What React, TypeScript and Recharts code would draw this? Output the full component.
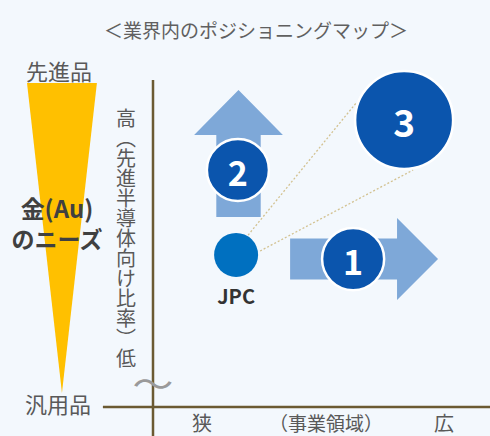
import { ScatterChart, Scatter, XAxis, YAxis, ZAxis, ReferenceArea, ReferenceLine } from 'recharts'

// map units: origin of the two axes is (0, 0)
const X_DOMAIN = [-5.1, 11.233]
const Y_DOMAIN = [-0.967, 13.567]

const markerNames = ['JPC', '1', '2', '3']
const markerX = [2.77, 6.67, 2.83, 8.37]
const markerY = [5.07, 4.93, 7.9, 9.57]
const markerZ = [1, 2, 2, 5]

const arrowNames = ['up', 'right']
const arrowX = [[1.37, 4.33], [4.57, 9.5]]
const arrowY = [[6.33, 10.57], [3.57, 6.3]]

const needX = [-4.2, -1.87]
const needY = [0.47, 10.8]

const linkFrom = [[3.17, 5.73], [3.57, 5.2]]
const linkTo = [[6.8, 10.17], [8.67, 7.9]]

const xAxisSpan = [-1.67, 11.3]
const yAxisSpan = [-1.1, 10.9]

const xLabels = ['狭', '（事業領域）', '広']
const yLabel = '高（先進半導体向け比率）低'

const FONT = '"Noto Sans CJK JP", "Noto Sans", sans-serif'
const AXIS = '#6b5a32'
const ARROW = '#7ea8d8'
const NAVY = '#0b55ad'
const GRAY = '#595959'

const markers = markerNames.map((name, i) => ({ name, x: markerX[i], y: markerY[i], z: markerZ[i] }))

function Marker(props: any) {
  const { cx, cy, payload } = props
  const r = props.size ? Math.sqrt(props.size / Math.PI) : props.width / 2
  if (payload.name === 'JPC') {
    return (
      <g>
        <circle cx={cx} cy={cy} r={r} fill="#0070c0" />
        <text x={cx} y={cy + r + 19} textAnchor="middle" dominantBaseline="central" fontFamily={FONT} fontWeight={700} fontSize={20} fill="#333">
          JPC
        </text>
      </g>
    )
  }
  return (
    <g>
      <circle cx={cx} cy={cy} r={r} fill={NAVY} stroke="#fff" strokeWidth={2.5} />
      <text x={cx} y={cy + 1} textAnchor="middle" dominantBaseline="central" fontFamily={FONT} fontWeight={700} fontSize={r > 40 ? 37 : 34} fill="#fff">
        {payload.name}
      </text>
    </g>
  )
}

function arrowShape(dir: string) {
  return (p: any) => {
    const { x, y, width: w, height: h } = p
    if (dir === 'up') {
      const sw = w * 0.25
      const hh = h * 0.355
      const m = x + w / 2
      const pts = [
        [m, y], [x + w, y + hh], [m + sw, y + hh], [m + sw, y + h],
        [m - sw, y + h], [m - sw, y + hh], [x, y + hh],
      ]
      return <polygon points={pts.map((q) => q.join(',')).join(' ')} fill={ARROW} />
    }
    const sh = h * 0.25
    const hl = w * 0.277
    const m = y + h / 2
    const pts = [
      [x + w, m], [x + w - hl, y + h], [x + w - hl, m + sh], [x, m + sh],
      [x, m - sh], [x + w - hl, m - sh], [x + w - hl, y],
    ]
    return <polygon points={pts.map((q) => q.join(',')).join(' ')} fill={ARROW} />
  }
}

function needShape(p: any) {
  const { x, y, width: w, height: h } = p
  return <polygon points={`${x},${y} ${x + w},${y} ${x + w / 2},${y + h}`} fill="#ffc000" />
}

export default function App() {
  return (
    <div style={{ position: 'absolute', left: 0, top: 0, width: 490, height: 436, background: '#f3f8fd' }}>
      <ScatterChart width={490} height={436} margin={{ top: 0, right: 0, bottom: 0, left: 0 }}>
        <XAxis type="number" dataKey="x" domain={X_DOMAIN} allowDataOverflow hide />
        <YAxis type="number" dataKey="y" domain={Y_DOMAIN} allowDataOverflow hide />
        <ZAxis type="number" dataKey="z" domain={[1, 5]} range={[Math.PI * 22 * 22, Math.PI * 49 * 49]} />
        <ReferenceArea x1={needX[0]} x2={needX[1]} y1={needY[0]} y2={needY[1]} shape={needShape} ifOverflow="visible" />
        {arrowNames.map((d, i) => (
          <ReferenceArea key={d} x1={arrowX[i][0]} x2={arrowX[i][1]} y1={arrowY[i][0]} y2={arrowY[i][1]} shape={arrowShape(d)} ifOverflow="visible" />
        ))}
        <ReferenceLine segment={[{ x: 0, y: yAxisSpan[0] }, { x: 0, y: yAxisSpan[1] }]} stroke={AXIS} strokeWidth={2.5} ifOverflow="visible" />
        <ReferenceLine segment={[{ x: xAxisSpan[0], y: 0 }, { x: xAxisSpan[1], y: 0 }]} stroke={AXIS} strokeWidth={2.5} ifOverflow="visible" />
        {linkFrom.map((f, i) => (
          <ReferenceLine
            key={i}
            segment={[{ x: f[0], y: f[1] }, { x: linkTo[i][0], y: linkTo[i][1] }]}
            stroke="#d3c291"
            strokeWidth={1.3}
            strokeDasharray="2 2"
            ifOverflow="visible"
          />
        ))}
        <Scatter data={markers} shape={Marker} isAnimationActive={false} />
      </ScatterChart>
      <svg width={490} height={436} style={{ position: 'absolute', left: 0, top: 0, pointerEvents: 'none' }} fontFamily={FONT}>
        <text x={256} y={29} textAnchor="middle" dominantBaseline="central" fontSize={19} fill="#606060">
          ＜業界内のポジショニングマップ＞
        </text>
        <text x={59} y={70} textAnchor="middle" dominantBaseline="central" fontSize={22} fill={GRAY}>先進品</text>
        <text x={58} y={403} textAnchor="middle" dominantBaseline="central" fontSize={22} fill={GRAY}>汎用品</text>
        <text x={57} y={207} textAnchor="middle" dominantBaseline="central" fontSize={24} fontWeight={700} fill="#404040">金(Au)</text>
        <text x={57} y={238} textAnchor="middle" dominantBaseline="central" fontSize={23} fontWeight={700} fill="#404040">のニーズ</text>
        <text x={126} y={238} textAnchor="middle" fontSize={20} fill={GRAY} style={{ writingMode: 'vertical-rl' }}>
          {yLabel}
        </text>
        <text x={153} y={382} textAnchor="middle" dominantBaseline="central" fontSize={34} fill="#9a9a9a" transform="translate(153 382) scale(1.2 1) translate(-153 -382)">～</text>
        <text x={202} y={422} textAnchor="middle" dominantBaseline="central" fontSize={20} fill={GRAY}>{xLabels[0]}</text>
        <text x={326} y={422} textAnchor="middle" dominantBaseline="central" fontSize={19} fill={GRAY}>{xLabels[1]}</text>
        <text x={444} y={422} textAnchor="middle" dominantBaseline="central" fontSize={20} fill={GRAY}>{xLabels[2]}</text>
      </svg>
    </div>
  )
}
